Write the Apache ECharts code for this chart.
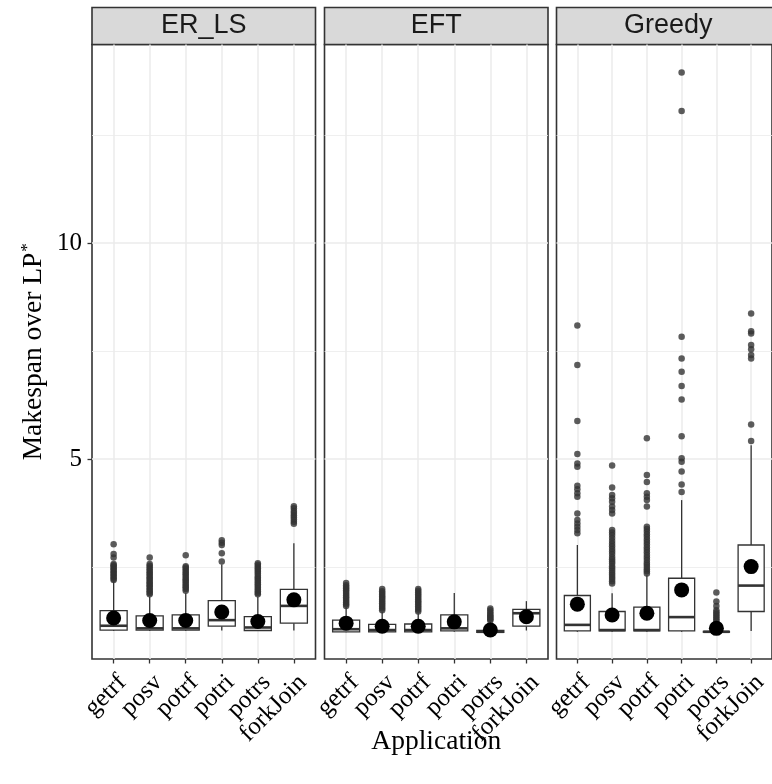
<!DOCTYPE html>
<html>
<head>
<meta charset="utf-8">
<script src="https://cdn.jsdelivr.net/npm/echarts@6/dist/echarts.min.js"></script>
<style>
html, body { margin: 0; background: #fff; }
#main { width: 772px; height: 784px; }
</style>
</head>
<body>
<div id="main"></div>
<script>
// categories / facets
var apps = ['getrf', 'posv', 'potrf', 'potri', 'potrs', 'forkJoin'];
var algorithms = ['ER_LS', 'EFT', 'Greedy'];
var yTicks = [5, 10];

// box stats per app: [lower whisker, Q1, median, Q3, upper whisker]
var boxERLS = [
  [1.02, 1.04, 1.14, 1.49, 2.16],
  [1.02, 1.04, 1.08, 1.37, 1.81],
  [1.02, 1.04, 1.08, 1.39, 1.89],
  [1.03, 1.13, 1.27, 1.72, 2.56],
  [1.02, 1.03, 1.10, 1.35, 1.81],
  [1.03, 1.20, 1.60, 1.98, 3.05]
];
var boxEFT = [
  [0.99, 1.00, 1.06, 1.27, 1.57],
  [0.99, 1.00, 1.04, 1.17, 1.46],
  [0.99, 1.00, 1.04, 1.18, 1.43],
  [1.00, 1.02, 1.08, 1.39, 1.90],
  [0.98, 0.99, 1.00, 1.03, 1.23],
  [1.03, 1.13, 1.43, 1.52, 1.71]
];
var boxGreedy = [
  [1.00, 1.02, 1.16, 1.84, 3.01],
  [1.00, 1.02, 1.04, 1.47, 1.89],
  [1.00, 1.02, 1.04, 1.57, 2.31],
  [1.00, 1.02, 1.34, 2.24, 4.05],
  [0.98, 0.99, 1.00, 1.01, 1.20],
  [1.02, 1.47, 2.07, 3.01, 5.32]
];

// means (big black dots)
var meanERLS = [1.32, 1.26, 1.26, 1.46, 1.24, 1.74];
var meanEFT = [1.20, 1.13, 1.13, 1.23, 1.04, 1.35];
var meanGreedy = [1.64, 1.39, 1.43, 1.97, 1.08, 2.51];

// outliers per app
var outERLS = [
  [2.2, 2.23, 2.27, 2.3, 2.34, 2.37, 2.4, 2.44, 2.47, 2.51, 2.54, 2.57, 2.72, 2.8, 3.03],
  [1.87, 1.9, 1.94, 1.97, 2.01, 2.05, 2.08, 2.12, 2.15, 2.19, 2.23, 2.26, 2.3, 2.34, 2.37, 2.41, 2.45, 2.49, 2.53, 2.57, 2.72],
  [1.95, 1.99, 2.03, 2.06, 2.1, 2.14, 2.18, 2.21, 2.25, 2.29, 2.33, 2.37, 2.41, 2.45, 2.49, 2.52, 2.77],
  [2.63, 2.82, 3.01, 3.06, 3.12],
  [1.87, 1.9, 1.94, 1.98, 2.02, 2.06, 2.1, 2.14, 2.18, 2.22, 2.26, 2.3, 2.35, 2.39, 2.43, 2.47, 2.51, 2.55, 2.59],
  [3.5, 3.55, 3.6, 3.65, 3.7, 3.75, 3.8, 3.86, 3.91]
];
var outEFT = [
  [1.6, 1.64, 1.68, 1.72, 1.76, 1.8, 1.84, 1.88, 1.92, 1.96, 2.0, 2.04, 2.08, 2.13],
  [1.5, 1.54, 1.58, 1.62, 1.66, 1.7, 1.74, 1.78, 1.82, 1.86, 1.9, 1.94, 1.99],
  [1.47, 1.51, 1.55, 1.59, 1.63, 1.67, 1.71, 1.75, 1.79, 1.83, 1.87, 1.91, 1.95, 1.99],
  [],
  [1.26, 1.29, 1.32, 1.35, 1.38, 1.41, 1.45, 1.5, 1.54],
  []
];
var outGreedy = [
  [3.28, 3.36, 3.43, 3.51, 3.59, 3.74, 4.13, 4.21, 4.3, 4.38, 4.82, 4.9, 5.12, 5.88, 7.18, 8.09],
  [2.12, 2.17, 2.22, 2.27, 2.32, 2.37, 2.42, 2.47, 2.52, 2.58, 2.63, 2.68, 2.73, 2.8, 2.86, 2.92, 2.98, 3.04, 3.1, 3.17, 3.24, 3.3, 3.36, 3.74, 3.82, 3.9, 4.01, 4.09, 4.17, 4.34, 4.85],
  [2.35, 2.4, 2.45, 2.5, 2.55, 2.6, 2.66, 2.72, 2.78, 2.84, 2.9, 2.96, 3.02, 3.08, 3.14, 3.2, 3.26, 3.32, 3.38, 3.43, 3.9, 4.05, 4.13, 4.21, 4.47, 4.63, 5.48],
  [4.24, 4.41, 4.71, 4.94, 5.02, 5.53, 6.38, 6.69, 7.02, 7.33, 7.83, 13.06, 13.95],
  [1.25, 1.29, 1.33, 1.37, 1.41, 1.45, 1.5, 1.6, 1.7, 1.91],
  [5.42, 5.8, 7.33, 7.41, 7.54, 7.64, 7.91, 7.96, 8.37]
];

var boxes = [boxERLS, boxEFT, boxGreedy];
var means = [meanERLS, meanEFT, meanGreedy];
var outs = [outERLS, outEFT, outGreedy];

// layout
var panelLeft = [92, 324.5, 556.5];
var panelWidth = 223.5;
var panelTop = 44.5, panelBottom = 659, stripTop = 7.5;
var labelTop = 670;
var serif = '"Liberation Serif", "Times New Roman", serif';
var sans = '"Liberation Sans", Arial, sans-serif';

var chart = echarts.init(document.getElementById('main'));

function renderBox(params, api) {
  var x = api.value(0);
  var pLo = api.coord([x, api.value(1)]);
  var pQ1 = api.coord([x, api.value(2)]);
  var pMed = api.coord([x, api.value(3)]);
  var pQ3 = api.coord([x, api.value(4)]);
  var pHi = api.coord([x, api.value(5)]);
  var half = api.size([0.75, 0])[0] / 2;
  var cx = pMed[0];
  var st = { stroke: '#333', lineWidth: 1.3 };
  return {
    type: 'group',
    children: [
      { type: 'line', shape: { x1: cx, y1: pHi[1], x2: cx, y2: pQ3[1] }, style: st },
      { type: 'line', shape: { x1: cx, y1: pQ1[1], x2: cx, y2: pLo[1] }, style: st },
      { type: 'rect', shape: { x: cx - half, y: pQ3[1], width: half * 2, height: pQ1[1] - pQ3[1] },
        style: { fill: '#fff', stroke: '#333', lineWidth: 1.3 } },
      { type: 'line', shape: { x1: cx - half, y1: pMed[1], x2: cx + half, y2: pMed[1] },
        style: { stroke: '#333', lineWidth: 2.6 } }
    ]
  };
}

// gridlines (ggplot theme_bw style)
var gridLines = [];
[5, 10].forEach(function (v) { gridLines.push({ yAxis: v, lineStyle: { width: 1.5 } }); });
[2.5, 7.5, 12.5].forEach(function (v) { gridLines.push({ yAxis: v, lineStyle: { width: 0.8 } }); });
apps.forEach(function (a, j) { gridLines.push({ xAxis: j, lineStyle: { width: 1.5 } }); });

var grids = [], xAxes = [], yAxes = [], series = [], graphics = [];
var catIdx = apps.map(function (a, j) { return j; });

algorithms.forEach(function (name, i) {
  grids.push({
    left: panelLeft[i], top: panelTop, width: panelWidth, height: panelBottom - panelTop,
    show: true, backgroundColor: '#fff', borderColor: '#333', borderWidth: 1.6
  });
  var xa = {
    type: 'value', gridIndex: i, min: -0.6, max: 5.6,
    splitLine: { show: false },
    axisLine: { show: false, onZero: false },
    axisTick: { show: true, customValues: catIdx, length: 4.5, lineStyle: { color: '#333', width: 1.3 } },
    axisLabel: { show: false }
  };
  if (i === 1) {
    xa.name = 'Application';
    xa.nameLocation = 'middle';
    xa.nameGap = 69;
    xa.nameMoveOverlap = false;
    xa.nameTextStyle = { fontFamily: serif, fontSize: 27.5, color: '#000' };
  }
  xAxes.push(xa);
  var ya = {
    type: 'value', gridIndex: i, min: 0.37, max: 14.6,
    splitLine: { show: false },
    axisLine: { show: false, onZero: false },
    axisTick: { show: i === 0, customValues: yTicks, length: 4.5, lineStyle: { color: '#333', width: 1.3 } },
    axisLabel: { show: i === 0, customValues: yTicks, margin: 10, fontFamily: serif, fontSize: 25, color: '#000' }
  };
  if (i === 0) {
    ya.name = '{t|Makespan over LP}{s|*}';
    ya.nameLocation = 'middle';
    ya.nameRotate = 90;
    ya.nameGap = 43;
    ya.nameMoveOverlap = false;
    ya.nameTextStyle = {
      rich: {
        t: { fontFamily: serif, fontSize: 27.5, color: '#000', lineHeight: 30 },
        s: { fontFamily: serif, fontSize: 17, color: '#000', verticalAlign: 'top', lineHeight: 30, padding: [0, 0, 0, 1] }
      }
    };
  }
  yAxes.push(ya);

  var outData = [];
  outs[i].forEach(function (vals, j) {
    vals.forEach(function (v) { outData.push([j, v]); });
  });
  series.push({
    type: 'scatter', xAxisIndex: i, yAxisIndex: i, z: 3,
    symbol: 'circle', symbolSize: 6.5,
    itemStyle: { color: '#333' },
    data: outData,
    markLine: {
      silent: true, symbol: 'none', z: 1, animation: false,
      label: { show: false },
      lineStyle: { color: '#EBEBEB', type: 'solid' },
      data: gridLines
    }
  });
  series.push({
    type: 'custom', xAxisIndex: i, yAxisIndex: i, z: 4,
    renderItem: renderBox,
    encode: { x: 0, y: [1, 2, 3, 4, 5] },
    data: boxes[i].map(function (b, j) { return [j].concat(b); })
  });
  series.push({
    type: 'scatter', xAxisIndex: i, yAxisIndex: i, z: 5,
    symbol: 'circle', symbolSize: 15,
    itemStyle: { color: '#000', opacity: 1 },
    data: means[i].map(function (m, j) { return [j, m]; })
  });

  // facet strip
  graphics.push({
    type: 'rect', silent: true,
    shape: { x: panelLeft[i], y: stripTop, width: panelWidth, height: panelTop - stripTop },
    style: { fill: '#D9D9D9', stroke: '#333', lineWidth: 1.6 }
  });
  graphics.push({
    type: 'text', silent: true,
    x: panelLeft[i] + panelWidth / 2, y: (stripTop + panelTop) / 2,
    style: {
      text: name, font: '27px ' + sans, fill: '#1A1A1A',
      align: 'center', verticalAlign: 'middle',
      textAlign: 'center', textVerticalAlign: 'middle'
    }
  });
});

chart.setOption({
  animation: false,
  backgroundColor: '#fff',
  grid: grids,
  xAxis: xAxes,
  yAxis: yAxes,
  series: series,
  graphic: graphics
});

// rotated category labels (hjust = 1, vjust = 1 at 45 degrees), placed at the axis ticks
algorithms.forEach(function (name, i) {
  apps.forEach(function (app, j) {
    var px = chart.convertToPixel({ xAxisIndex: i }, j);
    graphics.push({
      type: 'text', silent: true,
      x: px, y: labelTop, rotation: Math.PI / 4,
      style: {
        text: app, font: '25px ' + serif, fill: '#000',
        align: 'right', verticalAlign: 'top',
        textAlign: 'right', textVerticalAlign: 'top'
      }
    });
  });
});
chart.setOption({ graphic: graphics });
</script>
</body>
</html>
